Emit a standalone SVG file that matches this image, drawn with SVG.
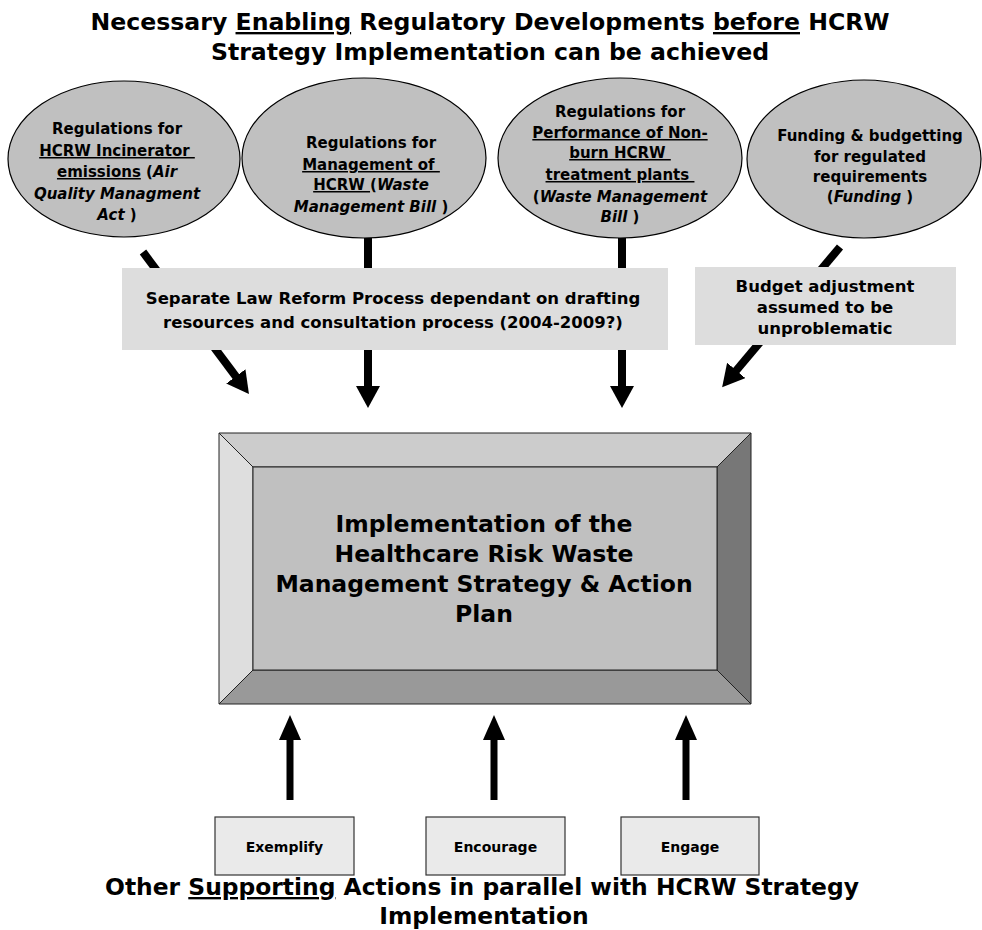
<svg xmlns="http://www.w3.org/2000/svg" width="982" height="930" viewBox="0 0 982 930">
  <style>
    text { font-family: Verdana, "DejaVu Sans", sans-serif; font-weight: bold; fill: #000; text-anchor: middle; white-space: pre; }
    .title { font-size: 23.6px; }
    .subtitle { font-size: 23.4px; }
    .oval { fill: #c0c0c0; stroke: #000; stroke-width: 1.2; }
    .oval-text { font-size: 15px; }
    .note { fill: #dddddd; }
    .note-text { font-size: 16.5px; }
    .main-text { font-size: 23.5px; }
    .action { fill: #eaeaea; stroke: #333; stroke-width: 1.2; }
    .action-text { font-size: 14px; }
    .u { text-decoration: underline; }
    .i { font-style: italic; }
    .bevel { stroke: #222; stroke-width: 1; }
    .arrow { stroke: #000; stroke-width: 8; fill: none; marker-end: url(#head); }
    .arrow-up { stroke: #000; stroke-width: 7; fill: none; marker-end: url(#head-up); }
  </style>
  <defs>
    <marker id="head" markerUnits="userSpaceOnUse" markerWidth="24" markerHeight="24" refX="2" refY="12" orient="auto">
      <path d="M0,0 L22,12 L0,24 Z" fill="#000"/>
    </marker>
    <marker id="head-up" markerUnits="userSpaceOnUse" markerWidth="25" markerHeight="22" refX="2" refY="11" orient="auto">
      <path d="M0,0 L25,11 L0,22 Z" fill="#000"/>
    </marker>
  </defs>

  <rect width="982" height="930" fill="#fff"/>

  <!-- heading -->
  <g id="heading-top">
    <text class="title" x="490" y="30">Necessary <tspan class="u">Enabling</tspan> Regulatory Developments <tspan class="u">before</tspan> HCRW</text>
    <text class="title" x="490" y="60">Strategy Implementation can be achieved</text>
  </g>

  <!-- connectors (drawn under the note boxes) -->
  <g id="connectors">
    <line class="arrow" x1="143" y1="252" x2="237" y2="378"/>
    <line class="arrow" x1="368" y1="238" x2="368" y2="388"/>
    <line class="arrow" x1="622" y1="238" x2="622" y2="388"/>
    <line class="arrow" x1="840" y1="247" x2="735" y2="372"/>
    <line class="arrow-up" x1="290" y1="800" x2="290" y2="738"/>
    <line class="arrow-up" x1="494" y1="800" x2="494" y2="738"/>
    <line class="arrow-up" x1="686" y1="800" x2="686" y2="738"/>
  </g>

  <!-- regulatory prerequisites -->
  <g id="air-quality">
    <ellipse class="oval" cx="124" cy="159" rx="116" ry="78"/>
    <text class="oval-text" x="117" y="134">Regulations for</text>
    <text class="oval-text" x="117" y="156"><tspan class="u">HCRW Incinerator </tspan></text>
    <text class="oval-text" x="117" y="177"><tspan class="u">emissions</tspan> (<tspan class="i">Air</tspan></text>
    <text class="oval-text" x="117" y="199"><tspan class="i">Quality Managment</tspan></text>
    <text class="oval-text" x="117" y="220"><tspan class="i">Act</tspan> )</text>
  </g>

  <g id="waste-management">
    <ellipse class="oval" cx="364" cy="158" rx="122" ry="80"/>
    <text class="oval-text" x="371" y="148">Regulations for</text>
    <text class="oval-text" x="371" y="170"><tspan class="u">Management of </tspan></text>
    <text class="oval-text" x="371" y="190"><tspan class="u">HCRW </tspan>(<tspan class="i">Waste</tspan></text>
    <text class="oval-text" x="371" y="212"><tspan class="i">Management Bill</tspan> )</text>
  </g>

  <g id="non-burn">
    <ellipse class="oval" cx="620" cy="158" rx="122" ry="80"/>
    <text class="oval-text" x="620" y="117">Regulations for</text>
    <text class="oval-text" x="620" y="138"><tspan class="u">Performance of Non-</tspan></text>
    <text class="oval-text" x="620" y="158"><tspan class="u">burn HCRW </tspan></text>
    <text class="oval-text" x="620" y="180"><tspan class="u">treatment plants </tspan></text>
    <text class="oval-text" x="620" y="202">(<tspan class="i">Waste Management</tspan></text>
    <text class="oval-text" x="620" y="222"><tspan class="i">Bill</tspan> )</text>
  </g>

  <g id="funding">
    <ellipse class="oval" cx="864" cy="159" rx="117" ry="79"/>
    <text class="oval-text" x="870" y="141">Funding &amp; budgetting</text>
    <text class="oval-text" x="870" y="162">for regulated</text>
    <text class="oval-text" x="870" y="182">requirements</text>
    <text class="oval-text" x="870" y="202">(<tspan class="i">Funding</tspan> )</text>
  </g>

  <!-- notes over the arrows -->
  <g id="law-reform">
    <rect class="note" x="122" y="268" width="546" height="82"/>
    <text class="note-text" x="393" y="304">Separate Law Reform Process dependant on drafting</text>
    <text class="note-text" x="393" y="328">resources and consultation process (2004-2009?)</text>
  </g>

  <g id="budget">
    <rect class="note" x="695" y="267" width="261" height="78"/>
    <text class="note-text" x="825" y="292">Budget adjustment</text>
    <text class="note-text" x="825" y="313">assumed to be</text>
    <text class="note-text" x="825" y="334">unproblematic</text>
  </g>

  <!-- central bevelled block -->
  <g id="implementation">
    <polygon class="bevel" points="219,433 751,433 717,467 253,467" fill="#cccccc"/>
    <polygon class="bevel" points="219,433 253,467 253,670 219,704" fill="#dedede"/>
    <polygon class="bevel" points="751,433 751,704 717,670 717,467" fill="#777777"/>
    <polygon class="bevel" points="219,704 751,704 717,670 253,670" fill="#999999"/>
    <rect class="bevel" x="253" y="467" width="464" height="203" fill="#c0c0c0"/>
    <text class="main-text" x="484" y="532">Implementation of the</text>
    <text class="main-text" x="484" y="562">Healthcare Risk Waste</text>
    <text class="main-text" x="484" y="592">Management Strategy &amp; Action</text>
    <text class="main-text" x="484" y="622">Plan</text>
  </g>

  <!-- supporting actions -->
  <g id="exemplify">
    <rect class="action" x="215" y="817" width="139" height="58"/>
    <text class="action-text" x="284.5" y="852">Exemplify</text>
  </g>
  <g id="encourage">
    <rect class="action" x="426" y="817" width="139" height="58"/>
    <text class="action-text" x="495.5" y="852">Encourage</text>
  </g>
  <g id="engage">
    <rect class="action" x="621" y="817" width="138" height="58"/>
    <text class="action-text" x="690" y="852">Engage</text>
  </g>

  <g id="heading-bottom">
    <text class="subtitle" x="482" y="895">Other <tspan class="u">Supporting</tspan> Actions in parallel with HCRW Strategy</text>
    <text class="subtitle" x="484" y="924">Implementation</text>
  </g>
</svg>
